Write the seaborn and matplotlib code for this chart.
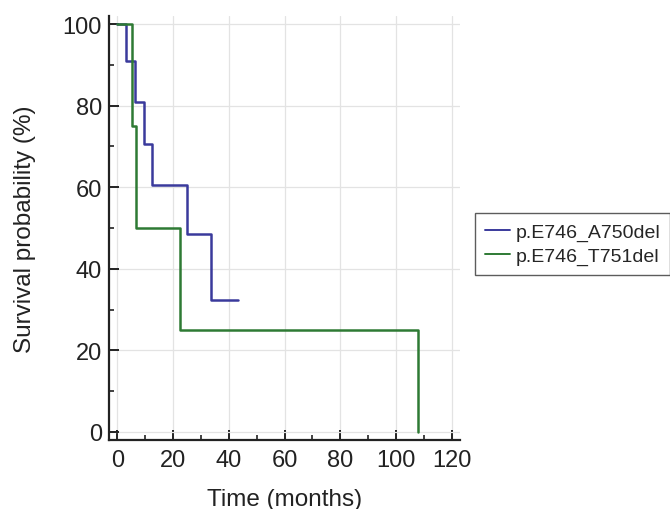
import matplotlib
matplotlib.use("Agg")
import matplotlib.pyplot as plt
import seaborn as sns
import pandas as pd
from matplotlib.ticker import MultipleLocator
from matplotlib.lines import Line2D

groups = ["p.E746_A750del", "p.E746_T751del"]
a750_time = [0, 3.2, 6.5, 9.4, 12.6, 25.0, 33.6, 43.3]
a750_surv = [100, 90.9, 80.8, 70.7, 60.6, 48.5, 32.3, 32.3]
t751_time = [0, 5.2, 6.7, 22.6, 107.8]
t751_surv = [100, 75, 50, 25, 0]
x_ticks = [0, 20, 40, 60, 80, 100, 120]
y_ticks = [0, 20, 40, 60, 80, 100]

df = pd.concat([
    pd.DataFrame({"time": a750_time, "surv": a750_surv, "group": groups[0]}),
    pd.DataFrame({"time": t751_time, "surv": t751_surv, "group": groups[1]}),
], ignore_index=True)

sns.set_style("white")
plt.rcParams["font.family"] = ["Liberation Sans", "DejaVu Sans"]

fig = plt.figure(figsize=(6.7, 5.1), dpi=100)
ax = fig.add_axes([109 / 670, 1 - 441 / 510, (460 - 109) / 670, (441 - 17) / 510])

palette = {groups[0]: "#3a3a9c", groups[1]: "#2e7a34"}
sns.lineplot(data=df, x="time", y="surv", hue="group", palette=palette,
             estimator=None, sort=False, drawstyle="steps-post",
             linewidth=1.8, ax=ax, legend=False)

ax.set_xlim(-3, 123)
ax.set_ylim(-2, 102)
ax.set_xticks(x_ticks)
ax.set_yticks(y_ticks)
ax.xaxis.set_minor_locator(MultipleLocator(10))
ax.yaxis.set_minor_locator(MultipleLocator(10))
ax.grid(True, which="major", color="#e3e3e3", linewidth=0.9)
ax.set_axisbelow(True)
for s in ["top", "right"]:
    ax.spines[s].set_visible(False)
for s in ["left", "bottom"]:
    ax.spines[s].set_color("#222222")
    ax.spines[s].set_linewidth(1.6)
ax.tick_params(which="both", bottom=True, left=True, top=False, right=False)
ax.tick_params(which="major", direction="in", length=7, width=1.4, color="#222222",
               labelsize=17, labelcolor="#222222")
ax.tick_params(axis="x", which="major", pad=6.5)
ax.tick_params(axis="y", which="major", pad=5)
ax.tick_params(which="minor", direction="in", length=3.5, width=1.2, color="#222222")
ax.set_xlabel("Time (months)", fontsize=17.5, labelpad=12, color="#222222")
ax.set_ylabel("Survival probability (%)", fontsize=17.5, labelpad=19, color="#222222")

handles = [Line2D([], [], color=palette[g], linewidth=1.4) for g in groups]
leg = fig.legend(handles, groups, loc="upper left",
                 bbox_to_anchor=(475 / 670, 1 - 214 / 510),
                 fontsize=14, frameon=True, fancybox=False, handlelength=1.3,
                 handletextpad=0.3, borderpad=0.5, labelspacing=0.35,
                 borderaxespad=0)
leg.get_frame().set_edgecolor("#333333")
leg.get_frame().set_linewidth(1.0)

fig.savefig("out.png", dpi=100)
